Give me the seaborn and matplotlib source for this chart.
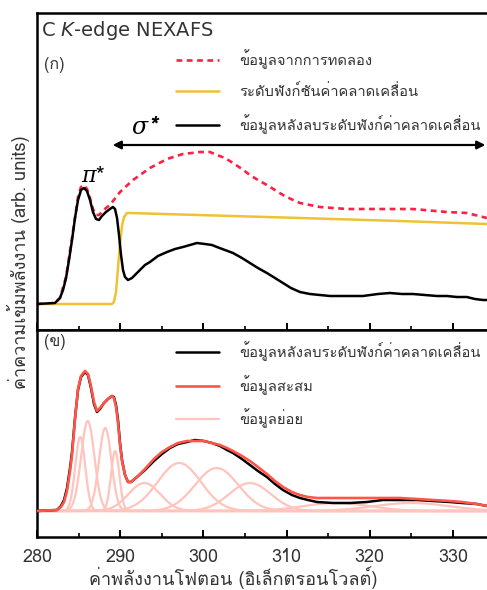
import numpy as np
import pandas as pd
import matplotlib
matplotlib.use("Agg")
import matplotlib.pyplot as plt
import seaborn as sns
from matplotlib import font_manager
from matplotlib.ft2font import FT2Font

# ---------------- data ----------------
# (ก) raw spectrum, edge step and step-subtracted spectrum
energy_bg = [280.0, 282.16, 282.76, 283.13, 283.49, 283.85, 284.21, 284.57, 284.93, 285.29,
             285.65, 286.01, 286.37, 286.73, 287.09, 287.45, 287.81, 288.29, 288.77, 289.13,
             289.38, 289.62, 289.86, 290.10, 290.34, 290.58, 290.94, 291.42, 292.14, 292.98,
             293.58, 294.54, 295.63, 296.59, 297.55, 298.39, 299.23, 300.19, 301.03, 301.63,
             302.60, 303.56, 304.64, 305.60, 306.56, 307.64, 308.61, 309.57, 310.53, 311.61,
             312.81, 314.01, 315.22, 317.02, 319.18, 320.99, 322.43, 323.87, 325.19, 326.63,
             328.08, 329.28, 330.48, 331.68, 332.64, 333.61, 334.09]
subtracted_top = [0.00, 0.01, 0.06, 0.14, 0.26, 0.44, 0.64, 0.86, 1.04, 1.14,
                  1.16, 1.13, 1.04, 0.92, 0.85, 0.84, 0.88, 0.92, 0.95, 0.97,
                  0.95, 0.86, 0.69, 0.49, 0.34, 0.27, 0.24, 0.26, 0.32, 0.39,
                  0.42, 0.48, 0.52, 0.55, 0.57, 0.59, 0.61, 0.60, 0.59, 0.57,
                  0.54, 0.51, 0.46, 0.41, 0.36, 0.31, 0.26, 0.21, 0.16, 0.12,
                  0.10, 0.09, 0.08, 0.08, 0.08, 0.10, 0.11, 0.10, 0.10, 0.09,
                  0.08, 0.08, 0.07, 0.07, 0.05, 0.04, 0.04]

energy_exp = [280.0, 282.16, 282.76, 283.49, 284.21, 284.93, 285.29, 285.65, 286.01, 286.37,
              286.73, 287.09, 287.45, 287.81, 288.29, 288.77, 289.98, 291.54, 293.58, 295.63,
              297.55, 299.59, 300.79, 301.63, 302.60, 303.56, 304.64, 305.60, 306.56, 307.64,
              308.61, 309.57, 310.53, 311.61, 312.81, 314.01, 317.26, 321.23, 325.19, 329.28,
              331.68, 333.61, 334.09]
experiment = [0.00, 0.01, 0.06, 0.27, 0.66, 1.07, 1.17, 1.19, 1.15, 1.06,
              0.95, 0.89, 0.89, 0.92, 0.96, 0.99, 1.12, 1.24, 1.36, 1.45,
              1.50, 1.52, 1.52, 1.49, 1.46, 1.41, 1.35, 1.29, 1.24, 1.19,
              1.14, 1.09, 1.05, 1.01, 0.99, 0.97, 0.95, 0.95, 0.95, 0.92,
              0.91, 0.87, 0.86]

energy_step = [280.0, 289.01, 289.25, 289.50, 289.74, 289.98, 290.22, 290.46, 290.82, 291.18,
               311.61, 323.60, 334.09]
edge_step = [0.00, 0.00, 0.02, 0.12, 0.36, 0.61, 0.78, 0.87, 0.91, 0.91,
             0.86, 0.83, 0.80]

# (ข) step-subtracted spectrum and its peak fit
energy_fit = [280.0, 282.40, 282.88, 283.25, 283.61, 283.97, 284.21, 284.57, 284.93, 285.29,
              285.77, 286.13, 286.49, 286.85, 287.21, 287.57, 288.05, 288.53, 289.01, 289.25,
              289.50, 289.74, 289.98, 290.22, 290.58, 290.94, 291.30, 292.02, 292.98, 294.06,
              295.02, 295.99, 296.95, 298.03, 298.99, 300.07, 301.03, 302.00, 302.84, 303.56,
              304.64, 305.60, 306.56, 307.64, 308.61, 309.57, 310.65, 311.61, 312.57, 313.65,
              315.58, 317.62, 319.66, 321.59, 323.63, 325.67, 327.60, 329.64, 331.08, 332.88,
              334.09]
subtracted_bottom = [0.00, 0.01, 0.05, 0.11, 0.23, 0.43, 0.59, 0.93, 1.21, 1.34,
                     1.39, 1.36, 1.23, 1.07, 0.99, 1.02, 1.08, 1.12, 1.15, 1.14,
                     1.06, 0.91, 0.68, 0.51, 0.36, 0.29, 0.29, 0.34, 0.41, 0.50,
                     0.57, 0.63, 0.67, 0.69, 0.71, 0.70, 0.68, 0.65, 0.61, 0.58,
                     0.52, 0.46, 0.40, 0.34, 0.27, 0.21, 0.16, 0.13, 0.11, 0.09,
                     0.08, 0.08, 0.09, 0.11, 0.11, 0.11, 0.10, 0.09, 0.08, 0.07,
                     0.05]
fit_total = [0.00, 0.01, 0.04, 0.09, 0.20, 0.40, 0.56, 0.92, 1.22, 1.35,
             1.40, 1.37, 1.25, 1.09, 1.00, 1.03, 1.08, 1.12, 1.15, 1.13,
             1.04, 0.88, 0.66, 0.50, 0.36, 0.29, 0.29, 0.34, 0.42, 0.52,
             0.59, 0.64, 0.68, 0.70, 0.70, 0.70, 0.68, 0.66, 0.63, 0.60,
             0.55, 0.50, 0.44, 0.37, 0.30, 0.24, 0.19, 0.16, 0.14, 0.13,
             0.13, 0.13, 0.13, 0.13, 0.13, 0.12, 0.11, 0.10, 0.09, 0.07,
             0.05]

# Gaussian components of the fit: centre (eV), amplitude, width (eV)
peak_centers = [285.2, 286.1, 288.2, 289.4, 292.9, 297.1, 301.6, 305.6, 316.0, 325.0]
peak_heights = [0.74, 0.90, 0.83, 0.60, 0.28, 0.48, 0.43, 0.28, 0.08, 0.08]
peak_widths = [0.60, 0.80, 0.75, 0.50, 1.90, 2.60, 2.60, 2.50, 4.00, 4.50]

x_ticks = [280, 290, 300, 310, 320, 330]

label_exp = "ข้อมูลจากการทดลอง"
label_step = "ระดับฟังก์ชันค่าคลาดเคลื่อน"
label_sub = "ข้อมูลหลังลบระดับฟังก์ค่าคลาดเคลื่อน"
label_sum = "ข้อมูลสะสม"
label_part = "ข้อมูลย่อย"
x_title = "ค่าพลังงานโฟตอน (อิเล็กตรอนโวลต์)"
y_title = "ค่าความเข้มพลังงาน (arb. units)"

# ---------------- style ----------------
sns.set_theme(style="white")


def find_thai_family():
    seen = set()
    for fe in font_manager.fontManager.ttflist:
        if fe.name in seen:
            continue
        seen.add(fe.name)
        try:
            f = FT2Font(fe.fname)
            if f.get_char_index(0x0E01) and f.get_char_index(0x0E49):
                return fe.name
        except Exception:
            continue
    return None


thai = find_thai_family()
families = ([thai] if thai else []) + ["DejaVu Sans"]
plt.rcParams["font.family"] = families
plt.rcParams["mathtext.fontset"] = "dejavuserif"

TXT = "#333333"
C_EXP = "#ff1f45"
C_STEP = "#efc234"
C_SUM = "#ff5447"
C_PART = "#ffc4bd"

W, H = 487, 590
fig = plt.figure(figsize=(W / 100, H / 100), dpi=100)
left = 37 / W
ax1 = fig.add_axes([left, 1 - 330 / H, 1 - left, (330 - 13) / H])
ax2 = fig.add_axes([left, 1 - 537 / H, 1 - left, (537 - 330) / H])

# ---- top panel ----
sns.lineplot(x=energy_exp, y=experiment, ax=ax1, color=C_EXP, lw=1.9,
             linestyle=(0, (2.2, 1.7)), label=label_exp)
sns.lineplot(x=energy_step, y=edge_step, ax=ax1, color=C_STEP, lw=1.8, label=label_step)
sns.lineplot(x=energy_bg, y=subtracted_top, ax=ax1, color="black", lw=1.8, label=label_sub)

# ---- bottom panel ----
e_grid = np.linspace(280, 334.1, 800)
for i, (c, h, w) in enumerate(zip(peak_centers, peak_heights, peak_widths)):
    sns.lineplot(x=e_grid, y=h * np.exp(-0.5 * ((e_grid - c) / w) ** 2), ax=ax2,
                 color=C_PART, lw=1.6, zorder=1,
                 label=label_part if i == 0 else None)
sns.lineplot(x=energy_fit, y=subtracted_bottom, ax=ax2, color="black", lw=1.8,
             zorder=2, label=label_sub)
sns.lineplot(x=energy_fit, y=fit_total, ax=ax2, color=C_SUM, lw=1.9, zorder=3,
             label=label_sum)

for ax, ylim in ((ax1, (-0.26, 2.91)), (ax2, (-0.26, 1.81))):
    ax.set_xlim(280, 334.1)
    ax.set_ylim(*ylim)
    ax.set_yticks([])
    ax.set_xticks(x_ticks)
    ax.set_xticks(np.arange(285, 335, 10), minor=True)
    ax.tick_params(axis="x", which="major", direction="in", length=5, width=1.4,
                   color="black", bottom=True, top=False, labelsize=13, labelcolor=TXT, pad=8)
    ax.tick_params(axis="x", which="minor", direction="in", length=3, width=1.2,
                   color="black", bottom=True, top=False)
    ax.set_ylabel("")
    for s in ("left", "top", "bottom"):
        ax.spines[s].set_linewidth(1.8)
        ax.spines[s].set_color("black")
    ax.spines["right"].set_visible(False)
ax1.tick_params(axis="x", labelbottom=False)

# legends
LEG_FS = 10.6
h1, l1 = ax1.get_legend_handles_labels()
ax1.legend(h1, l1, loc="upper left", bbox_to_anchor=(176 / W, 1 - 49 / H),
           bbox_transform=fig.transFigure, frameon=False, fontsize=LEG_FS,
           handlelength=2.9, handletextpad=1.4, labelspacing=1.05, labelcolor=TXT,
           borderpad=0, borderaxespad=0)
h2, l2 = ax2.get_legend_handles_labels()
order = [l2.index(label_sub), l2.index(label_sum), l2.index(label_part)]
ax2.legend([h2[i] for i in order], [l2[i] for i in order], loc="upper left",
           bbox_to_anchor=(176 / W, 1 - 341 / H), bbox_transform=fig.transFigure,
           frameon=False, fontsize=LEG_FS, handlelength=2.9, handletextpad=1.4,
           labelspacing=0.95, labelcolor=TXT, borderpad=0, borderaxespad=0)

# annotations
ax1.text(0.008, 0.945, r"C $\mathit{K}$-edge NEXAFS", transform=ax1.transAxes,
         fontsize=14, color=TXT, ha="left", va="center", family=["DejaVu Sans"],
         math_fontfamily="dejavusans")
ax1.text(0.015, 0.835, "(ก)", transform=ax1.transAxes, fontsize=11.5, color=TXT,
         ha="left", va="center")
ax2.text(0.015, 0.94, "(ข)", transform=ax2.transAxes, fontsize=11.5, color=TXT,
         ha="left", va="center")
ax1.annotate("", xy=(333.9, 1.59), xytext=(289.1, 1.59),
             arrowprops=dict(arrowstyle="<|-|>", color="black", lw=1.6,
                             mutation_scale=12, shrinkA=0, shrinkB=0))
ax1.text(293.1, 1.76, r"$\sigma$*", fontsize=17, ha="center", va="center",
         color="black", fontstyle="italic", fontweight="bold")
ax1.text(286.8, 1.28, r"$\pi$*", fontsize=16, ha="center", va="center", color="black")

fig.text(233 / W, 1 - 578 / H, x_title, ha="center", va="center", fontsize=13, color=TXT)
fig.text(18 / W, 1 - 262 / H, y_title, ha="center", va="center", fontsize=13,
         color=TXT, rotation=90)

fig.savefig("out.png", dpi=100)
